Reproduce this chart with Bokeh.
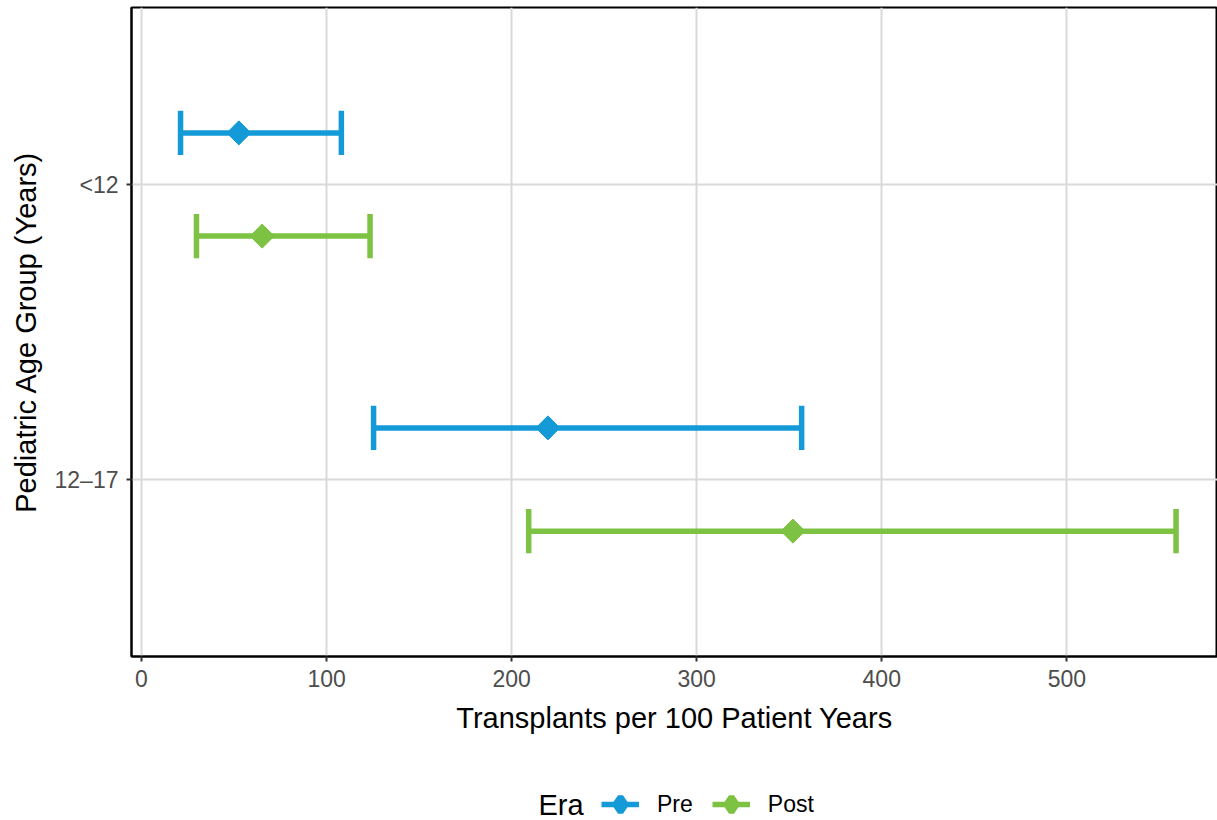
from math import pi

from bokeh.embed import file_html
from bokeh.layouts import column
from bokeh.models import ColumnDataSource, FactorRange, Label, Legend, LegendItem, Range1d
from bokeh.plotting import figure
from bokeh.resources import INLINE
from bokeh.transform import dodge

# Transplant rate estimates with 95% confidence limits, by age group and era
age_groups = ["<12", "12\u201317"]
eras = ["Pre", "Post"]
pre_est = [52.6, 219.6]
pre_low = [21.1, 125.4]
pre_high = [108.0, 356.7]
post_est = [65.2, 352.0]
post_low = [29.7, 209.2]
post_high = [123.5, 559.0]

era_colors = {"Pre": "#149bd7", "Post": "#7dc242"}
era_offsets = {"Pre": 0.175, "Post": -0.175}
cap_half = 0.075
bar_width = 5.5
FONT = "Liberation Sans"

p = figure(
    width=1217,
    height=760,
    output_backend="svg",
    toolbar_location=None,
    x_range=Range1d(-5.4, 581.4),
    y_range=FactorRange(factors=list(reversed(age_groups)), range_padding=0.1,
                        range_padding_units="absolute"),
    min_border_left=131,
    min_border_right=0,
    min_border_top=7,
    min_border_bottom=104,
    background_fill_color="white",
    border_fill_color="white",
)
p.outline_line_color = "black"
p.outline_line_width = 2

series = {
    "Pre": (pre_est, pre_low, pre_high),
    "Post": (post_est, post_low, post_high),
}

for era in eras:
    est, low, high = series[era]
    src = ColumnDataSource(dict(age=age_groups, est=est, low=low, high=high))
    off = era_offsets[era]
    col = era_colors[era]
    y_mid = dodge("age", off, range=p.y_range)
    y_lo = dodge("age", off - cap_half, range=p.y_range)
    y_hi = dodge("age", off + cap_half, range=p.y_range)
    p.segment(x0="low", x1="high", y0=y_mid, y1=y_mid, source=src,
              line_color=col, line_width=bar_width)
    p.segment(x0="low", x1="low", y0=y_lo, y1=y_hi, source=src,
              line_color=col, line_width=bar_width)
    p.segment(x0="high", x1="high", y0=y_lo, y1=y_hi, source=src,
              line_color=col, line_width=bar_width)
    p.scatter(x="est", y=y_mid, source=src, marker="square", angle=pi / 4,
              size=17, fill_color=col, line_color=col)

# Axes
p.xaxis.ticker = [0, 100, 200, 300, 400, 500]
p.xaxis.ticker.num_minor_ticks = 2
p.xaxis.axis_label = "Transplants per 100 Patient Years"
p.yaxis.axis_label = "Pediatric Age Group (Years)"
for ax in (p.xaxis, p.yaxis):
    ax.axis_label_text_font = FONT
    ax.axis_label_text_font_size = "29px"
    ax.axis_label_text_font_style = "normal"
    ax.axis_label_text_color = "black"
    ax.major_label_text_font = FONT
    ax.major_label_text_font_size = "23px"
    ax.major_label_text_color = "#4d4d4d"
    ax.axis_line_color = "black"
    ax.axis_line_width = 2
    ax.major_tick_line_color = "#333333"
    ax.major_tick_line_width = 2
    ax.major_tick_out = 5
    ax.major_tick_in = 0
    ax.minor_tick_line_color = None
p.xaxis.major_label_standoff = 8
p.xaxis.axis_label_standoff = 12
p.yaxis.major_label_standoff = 8
p.yaxis.axis_label_standoff = 10

# Grid
p.xgrid.grid_line_color = "#d9d9d9"
p.xgrid.grid_line_width = 2
p.xgrid.minor_grid_line_color = "#eeeeee"
p.xgrid.minor_grid_line_width = 1
p.ygrid.grid_line_color = "#d9d9d9"
p.ygrid.grid_line_width = 2

# Legend strip under the panel; key renderers hold no drawable points
key = figure(
    width=1217,
    height=60,
    output_backend="svg",
    toolbar_location=None,
    x_range=Range1d(0, 1),
    y_range=Range1d(0, 1),
    x_axis_type=None,
    y_axis_type=None,
    min_border=0,
    outline_line_color=None,
    background_fill_color="white",
    border_fill_color="white",
)
key.grid.visible = False
legend_items = []
for era in eras:
    col = era_colors[era]
    empty = ColumnDataSource(dict(x0=[float("nan")], x1=[float("nan")], y=[float("nan")]))
    k_line = key.segment(x0="x0", x1="x1", y0="y", y1="y", source=empty,
                         line_color=col, line_width=bar_width)
    k_dot = key.scatter(x="x0", y="y", source=empty, marker="diamond",
                        size=17, fill_color=col, line_color=col, line_width=6)
    legend_items.append(LegendItem(label=era, renderers=[k_line, k_dot]))

key.add_layout(Label(
    x=407, y=16, x_units="screen", y_units="screen", text="Era",
    text_font=FONT, text_font_size="29px", text_color="black",
    text_baseline="middle", text_align="left",
))

legend = Legend(
    items=legend_items,
    orientation="horizontal",
    location=(470, -3),
    label_text_font=FONT,
    label_text_font_size="23px",
    label_text_color="black",
    label_standoff=18,
    glyph_width=38,
    glyph_height=38,
    label_height=38,
    spacing=19,
    padding=0,
    margin=0,
    border_line_color=None,
    background_fill_alpha=0,
)
key.add_layout(legend)

layout = column(p, key, spacing=0)
open("out.html", "w").write(file_html(layout, INLINE))
